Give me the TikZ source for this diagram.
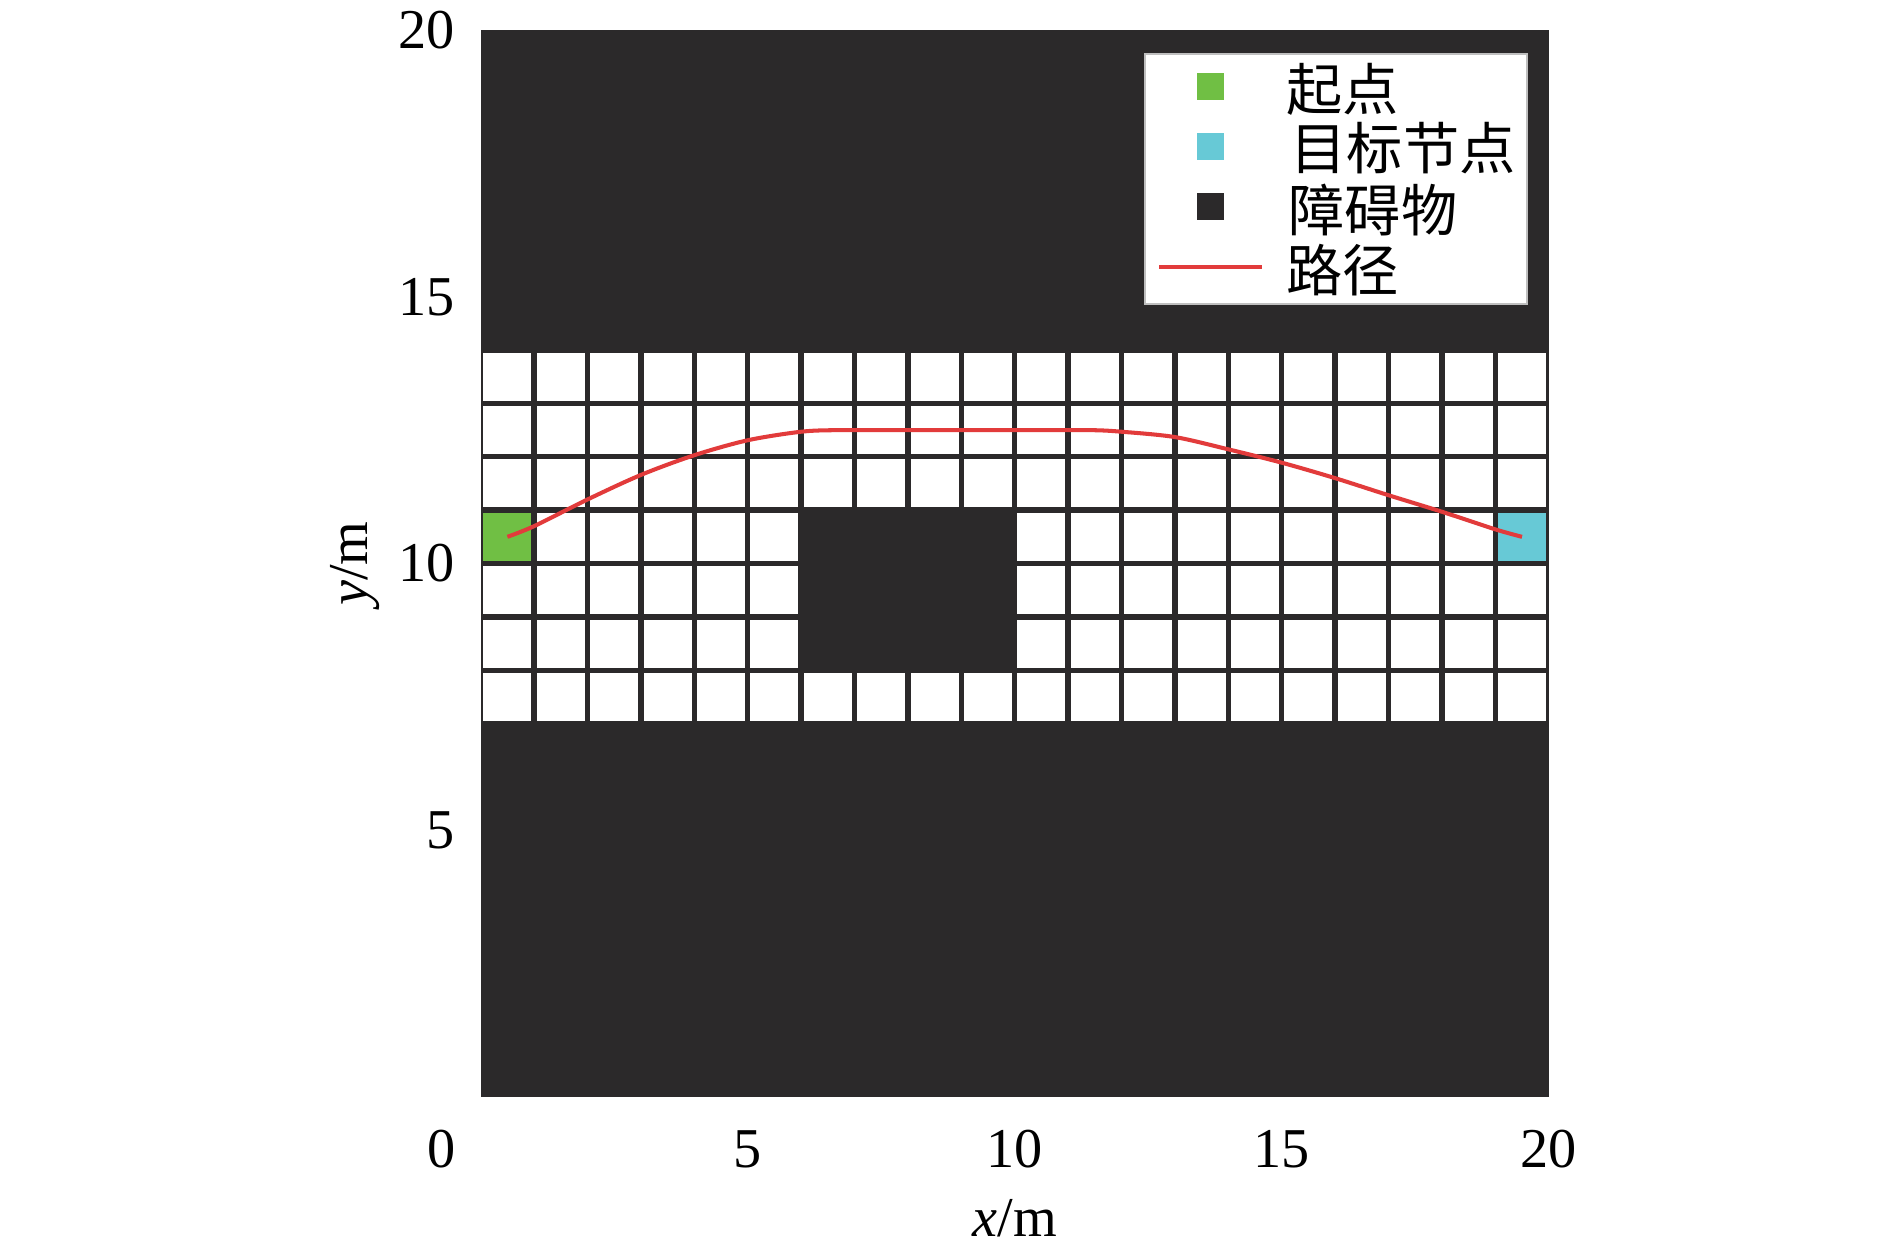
\documentclass[tikz,border=0pt]{standalone}
\usepackage{fontspec}
\setmainfont{Liberation Serif}
\newfontfamily\cjk{Noto Sans CJK SC}
\usepackage{tikz}

\definecolor{obst}{HTML}{2B292A}
\definecolor{startc}{HTML}{70BF44}
\definecolor{goalc}{HTML}{67C9D6}
\definecolor{pathc}{HTML}{E23B3B}

\begin{document}
\begin{tikzpicture}[every node/.style={font=\fontsize{16}{19}\selectfont}]
  \tikzstyle{tick} = [inner sep=0pt]
  \tikzstyle{key} = [minimum size=0.27cm, inner sep=0pt]
  \tikzstyle{keytext} = [anchor=west, inner sep=0pt, font=\cjk\fontsize{16}{19}\selectfont]
  \useasboundingbox (0,0) rectangle (18.9,12.55);
  \begin{scope}[shift={(4.807,1.58)}, x=0.534cm, y=0.5335cm]
    \fill[obst] (0,0) rectangle (20,20);
    % free cells
    \foreach \i in {0,...,19}
      \foreach \j in {7,...,13}
        \fill[white] (\i+0.05,\j+0.05) rectangle (\i+0.95,\j+0.95);
    \fill[obst] (6,8) rectangle (10,11);
    \fill[startc] (0.05,10.05) rectangle (0.95,10.95);
    \fill[goalc] (19.05,10.05) rectangle (19.95,10.95);
    % path
    \draw[pathc, line width=1.15pt] plot[smooth, tension=0.5] coordinates {
      (0.5,10.5) (1,10.7) (2,11.2) (3,11.66) (4,12.03) (5,12.31) (6,12.47)
      (6.7,12.5) (8,12.5) (9,12.5) (10,12.5) (11.4,12.5) (12,12.47)
      (13,12.37) (14,12.14) (15,11.89) (16,11.6) (17,11.28) (18,10.97)
      (19,10.64) (19.5,10.5)};
    % axes
    \foreach \v in {5,10,15,20}
      \node[tick, anchor=east] (ytick\v) at (-0.48,\v) {\v};
    \node[tick] (xtick0) at (-0.74,-0.975) {0};
    \foreach \v in {5,10,15,20}
      \node[tick] (xtick\v) at (\v,-0.975) {\v};
    \node[anchor=base, inner sep=0pt] (xlab) at (10,-2.62) {\textit{x}/m};
    \node[rotate=90, inner sep=0pt] (ylab) at (-2.35,10) {\textit{y}/m};
  \end{scope}
  % legend
  \draw[gray!50, fill=white, line width=0.4pt] (11.45,9.51) rectangle (15.27,12.01);
  \node[key, fill=startc] (kstart) at (12.10,11.68) {};
  \node[key, fill=goalc] (kgoal) at (12.10,11.08) {};
  \node[key, fill=obst] (kobst) at (12.10,10.48) {};
  \coordinate (kpa) at (11.59,9.88);
  \coordinate (kpb) at (12.62,9.88);
  \draw[pathc, line width=1.15pt] (kpa) -- (kpb);
  \node[keytext] (tstart) at (12.86,11.66) {起点};
  \node[keytext] (tgoal) at (12.90,11.07) {目标节点};
  \node[keytext] (tobst) at (12.88,10.45) {障碍物};
  \node[keytext] (tpath) at (12.86,9.85) {路径};
\end{tikzpicture}
\end{document}
